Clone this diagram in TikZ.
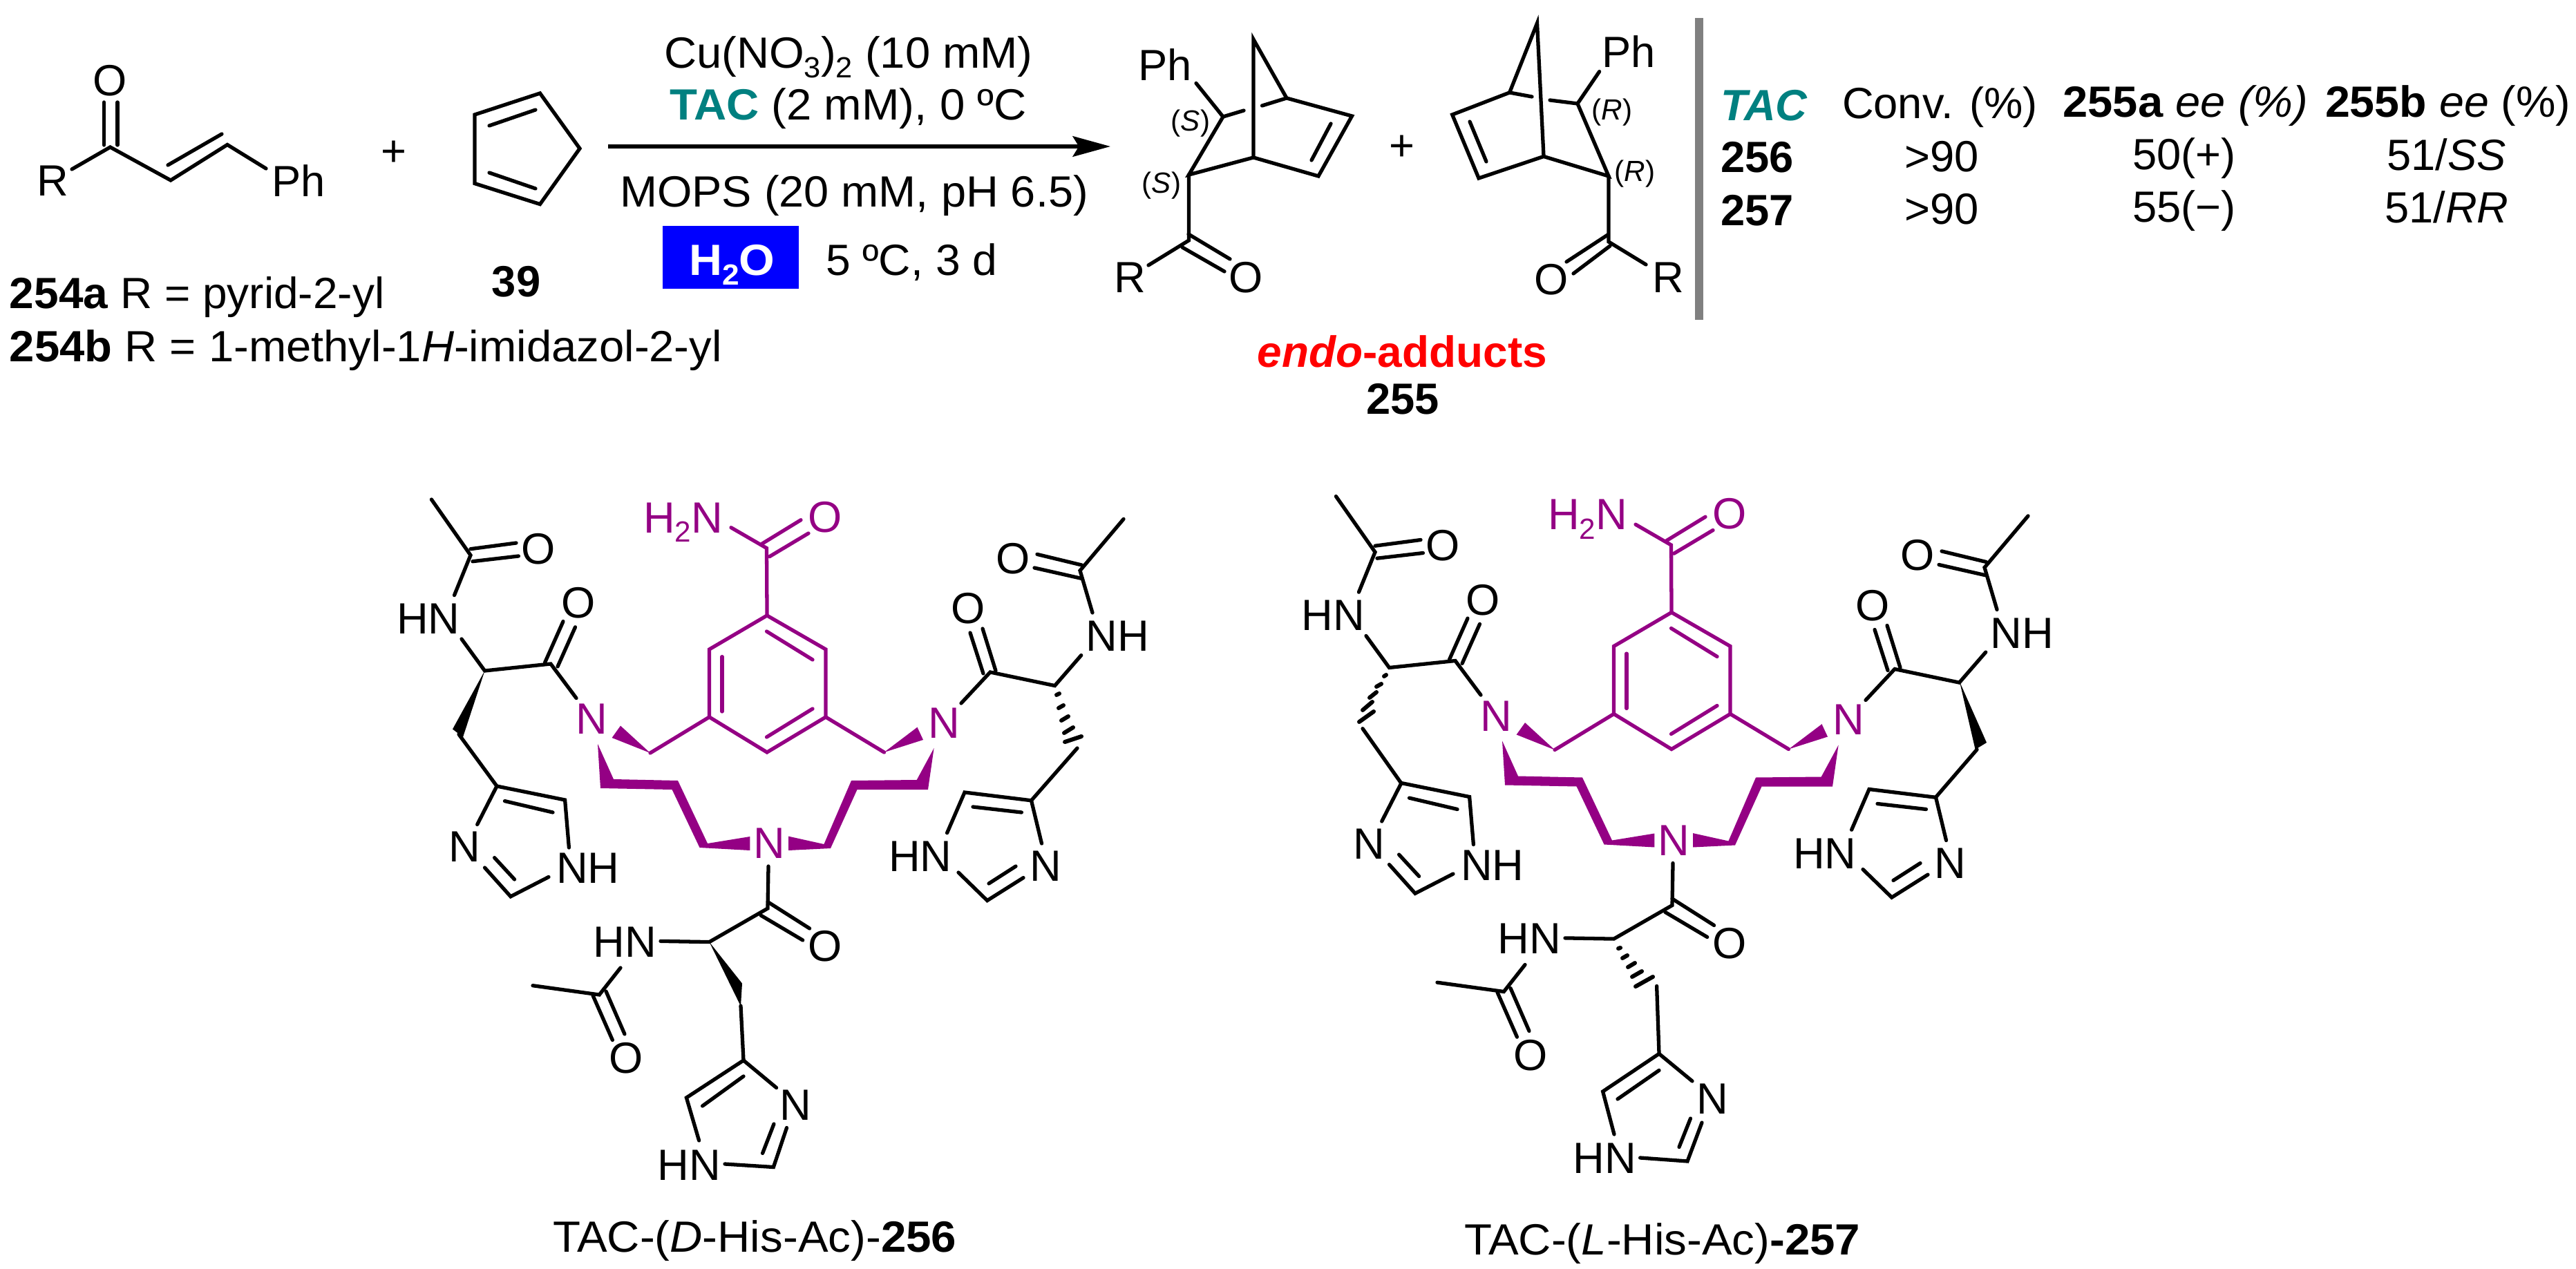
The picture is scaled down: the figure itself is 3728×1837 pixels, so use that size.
\documentclass[tikz,border=0pt]{standalone}
\usepackage{fontspec}
\setmainfont{Liberation Sans}
\usetikzlibrary{arrows.meta}
\definecolor{tacpurple}{RGB}{148,0,132}
\definecolor{tacteal}{RGB}{0,128,128}
\newcommand{\fsz}{\fontsize{18}{21}\selectfont}
\newcommand{\lowsub}[1]{\raisebox{-0.22em}{\fontsize{12}{12}\selectfont #1}}
\newcommand{\smalllab}[1]{{\fontsize{12}{13}\selectfont (\textit{#1})}}
\newcommand{\xs}[2]{\scalebox{#1}[1]{#2}}
\tikzset{
  x=0.01cm,y=-0.01cm,
  txt/.style={inner sep=0pt,outer sep=0pt,font=\fsz},
  lbl/.style={txt,anchor=base west},
  atom/.style={txt,anchor=center},
  bond/.style={line width=1.5pt,line cap=round,line join=miter,miter limit=10},
  hash/.style={line width=1.7pt,line cap=round},
}
\newcommand{\taccore}{%
  % purple amide and ring
  \begin{scope}[tacpurple]
    \node[lbl,text=tacpurple] (h2n) at (931,771) {H\lowsub{2}N};
    \node[atom,text=tacpurple] (oam) at (1194,748.6) {O};
    \draw[bond] (1058,763.7) -- (1109.5,793.5) -- (1110,891);
    \draw[bond] (1103,787) -- (1159,752.7);
    \draw[bond] (1113.6,805.7) -- (1170,772);
    \draw[bond] (1110,891) -- (1195,940) -- (1195,1038) -- (1110,1089) -- (1026.5,1038) -- (1026.5,940) -- cycle;
    \draw[bond] (1109.5,914) -- (1176,955);
    \draw[bond] (1045,950.6) -- (1045,1030);
    \draw[bond] (1109.5,1067) -- (1176,1026);
    \draw[bond] (1026.5,1038) -- (941,1090);
    \draw[bond] (1195,1038) -- (1279.5,1089);
    \fill (941,1090) -- (885.6,1068) -- (898,1050.6) -- cycle;
    \fill (1279.5,1089) -- (1336,1071) -- (1327.5,1052.7) -- cycle;
    \node[atom,text=tacpurple] (nl) at (856.5,1041) {N};
    \node[atom,text=tacpurple] (nr) at (1366.5,1046.5) {N};
    \node[atom,text=tacpurple] (nb) at (1113.6,1221) {N};
    \fill (865,1077) -- (888,1128) -- (981,1130) -- (1024,1221) -- (1085.4,1211) -- (1085.4,1231) -- (1012.5,1227) -- (972.6,1143) -- (869,1141) -- cycle;
    \fill (1351.6,1083) -- (1326.7,1129) -- (1232,1130) -- (1192.4,1222) -- (1141,1210.6) -- (1141,1231) -- (1202,1228) -- (1240.5,1143) -- (1343,1143) -- cycle;
  \end{scope}
  % left arm
  \draw[bond] (624.4,723) -- (681,803.7) -- (657.5,861.6);
  \draw[bond] (681,794.7) -- (747,786);
  \draw[bond] (684,812.7) -- (750.4,805);
  \node[atom] (o1) at (779.4,794.7) {O};
  \node[atom] (hn1) at (620,895.5) {HN};
  \draw[bond] (668,925) -- (701.5,971) -- (797,961) -- (834,1010.6);
  \draw[bond] (788.6,959) -- (815,899.6);
  \draw[bond] (807,965) -- (832.5,907.8);
  \node[atom] (o2) at (837.5,873) {O};
  \draw[bond] (730.5,1159.6) -- (800,1176);
  \draw[bond] (690.7,1193.5) -- (719,1138) -- (817.6,1158) -- (823.4,1227);
  \node[atom] (n1) at (672.5,1226) {N};
  \node[atom] (nh1) at (850.7,1257) {NH};
  \draw[bond] (701.5,1256) -- (739,1297.8) -- (794,1269.5);
  \draw[bond] (715.6,1241.6) -- (744.6,1273);
  % right arm
  \draw[bond] (1626,751.4) -- (1563,826) -- (1581,887);
  \draw[bond] (1565.5,818) -- (1501,802.4);
  \draw[bond] (1565.5,837.5) -- (1497,822);
  \node[atom] (o3) at (1466,808.6) {O};
  \node[atom] (nh2) at (1617,921) {NH};
  \draw[bond] (1564.7,948.6) -- (1526.5,992.6) -- (1433,973) -- (1391,1018);
  \draw[bond] (1423,975) -- (1404,916);
  \draw[bond] (1441,971) -- (1422,910);
  \node[atom] (o4) at (1401,881) {O};
  % upper part of the bottom arm
  \draw[bond] (1112,1254) -- (1111,1315) -- (1026.5,1363.6) -- (956,1362.4);
  \draw[bond] (1111,1305.5) -- (1171.6,1344);
  \draw[bond] (1101,1325) -- (1161.7,1361);
  \node[atom] (o5) at (1194,1370) {O};
  \node[atom] (hn3) at (904.6,1363.6) {HN};
  \draw[bond] (898,1401) -- (867.3,1440) -- (771,1426.7);
  \draw[bond] (858,1441) -- (886.4,1505.6);
  \draw[bond] (877,1435) -- (904,1497);
  \node[atom] (o6) at (906,1532) {O};
  % right imidazole
  \node[atom] (hn2) at (1331.7,1240) {HN};
  \node[atom] (n2) at (1513,1254) {N};
  \draw[bond] (1370.6,1205.7) -- (1396,1147) -- (1492.5,1158.8) -- (1507.5,1221);
  \draw[bond] (1408,1168) -- (1478.4,1176);
  \draw[bond] (1387,1263) -- (1428.7,1303.6) -- (1481,1270.6);
  \draw[bond] (1431,1279) -- (1470,1254);
}
\begin{document}
\begin{tikzpicture}
\useasboundingbox (0,0) rectangle (3728,1837);
\fill[white] (0,0) rectangle (3728,1837);

% enone
\node[atom] (o0) at (159.5,116.6) {O};
\node[atom] (r0) at (76,262) {R};
\node[atom] (ph0) at (432,262) {Ph};
\draw[bond] (104,245) -- (159.5,213) -- (247,261) -- (329,209.5) -- (385,244);
\draw[bond] (150.7,148) -- (150.7,210);
\draw[bond] (170,148) -- (170,210);
\draw[bond] (243,239) -- (321,194);
\node[atom] (plus1) at (570,222.5) {+};

% cyclopentadiene
\draw[bond] (687,166) -- (781.5,135) -- (839,215) -- (781.5,295.6) -- (687,265.6) -- cycle;
\draw[bond] (708,182) -- (775,159);
\draw[bond] (708,250) -- (775,273);
\node[atom,font=\fsz\bfseries] (c39) at (747,408) {39};
\node[lbl] (l254a) at (14,447) {\xs{1.01}{\textbf{254a} R = pyrid-2-yl}};
\node[lbl] (l254b) at (14,524) {\xs{1.03}{\textbf{254b} R = 1-methyl-1\textit{H}-imidazol-2-yl}};

% arrow and conditions
\coordinate (arrS) at (880,212);
\coordinate (arrE) at (1607,212);
\draw[line width=1.55pt,-{Stealth[length=15.5pt,width=8.4pt,inset=2.5pt]}] (arrS) -- (arrE);
\node[lbl] (cond1) at (961,99) {\xs{1.03}{Cu(NO\lowsub{3})\lowsub{2} (10 mM)}};
\node[lbl] (cond2) at (969,174) {\xs{1.033}{\textcolor{tacteal}{\textbf{TAC}} (2 mM), 0 ºC}};
\node[lbl] (cond3) at (897,300) {\xs{1.025}{MOPS (20 mM, pH 6.5)}};
\fill[blue] (959,327) rectangle (1156,418);
\node[lbl,text=white,font=\fsz\bfseries] (water) at (997,398.5) {\xs{1.05}{H\lowsub{\textbf{2}}O}};
\node[lbl] (cond4) at (1195,399) {\xs{1.015}{5 ºC, 3 d}};

% product 1
\node[atom] (ph1) at (1686,94) {Ph};
\draw[bond] (1731,120.5) -- (1770,169) -- (1720.5,253) -- (1814,228) -- (1814,57) -- (1862,142) -- (1956.5,168) -- (1908,255) -- (1814,228);
\draw[bond] (1770,169) -- (1800,160);
\draw[bond] (1862,142) -- (1826.5,153);
\draw[bond] (1926,179) -- (1898,232);
\draw[bond] (1720.5,253) -- (1720.5,348) -- (1662,384);
\draw[bond] (1720,339) -- (1780,375);
\draw[bond] (1711,358) -- (1772,393);
\node[atom] (r1) at (1635,402) {R};
\node[atom] (o11) at (1803.5,402) {O};
\node[atom] (s1) at (1723,179) {\smalllab{S}};
\node[atom] (s2) at (1681,269) {\smalllab{S}};

\node[atom] (plus2) at (2029,214) {+};

% product 2
\draw[bond] (2234,226.5) -- (2224.5,33.6) -- (2184.6,134) -- (2101.7,166) -- (2140,258) -- (2234,226.5) -- (2328,255) -- (2283,150) -- (2243,145);
\draw[bond] (2184.6,134) -- (2217,140);
\draw[bond] (2127,176) -- (2151,234);
\draw[bond] (2283,150) -- (2314.6,103.6);
\node[atom] (ph2) at (2357,75) {Ph};
\draw[bond] (2328,255) -- (2328,350) -- (2382,383);
\draw[bond] (2326.6,340) -- (2267,379);
\draw[bond] (2330,356) -- (2277,396);
\node[atom] (r2) at (2414,402) {R};
\node[atom] (o12) at (2245,405) {O};
\node[atom] (r3) at (2333,163) {\smalllab{R}};
\node[atom] (r4) at (2366,252) {\smalllab{R}};

\node[atom,anchor=base,text=red,font=\fsz\bfseries] (endo) at (2029.5,532) {\xs{1.01}{\textit{endo}-adducts}};
\node[atom,anchor=base,font=\fsz\bfseries] (n255) at (2030,600) {255};

% separator
\fill[black!50] (2452.5,26) rectangle (2465,463);

% table
\node[lbl,text=tacteal,font=\fsz\bfseries\itshape] (t00) at (2490,175) {TAC};
\node[lbl] (t01) at (2666,172) {Conv. (\%)};
\node[lbl] (t02) at (2985.5,170) {\xs{1.028}{\textbf{255a} \textit{ee (\%)}}};
\node[lbl] (t03) at (3365,170) {\xs{1.02}{\textbf{255b} \textit{ee} (\%)}};
\node[lbl,font=\fsz\bfseries] (t10) at (2490,250) {256};
\node[lbl] (t11) at (2756,249) {>90};
\node[lbl] (t12) at (3086,246) {50(+)};
\node[lbl] (t13) at (3454,247) {51/\textit{SS}};
\node[lbl,font=\fsz\bfseries] (t20) at (2490,327) {257};
\node[lbl] (t21) at (2756,325) {>90};
\node[lbl] (t22) at (3086,322) {55(−)};
\node[lbl] (t23) at (3451,322.5) {51/\textit{RR}};

% TAC-256
\begin{scope}[name prefix=a-]
  \taccore
  \fill (701.5,971) -- (655,1055.5) -- (670,1067) -- cycle;
  \draw[bond] (664,1063) -- (719,1138);
  \foreach \xa/\ya/\xb/\yb in {1529/1006/1533/1004,1532/1025/1539/1021,1536/1043/1546/1037,1540/1061/1553/1053,1541/1074/1565/1066}
    \draw[hash] (\xa,\ya) -- (\xb,\yb);
  \draw[bond] (1559,1083) -- (1492.5,1158.8);
  \fill (1026.5,1363.6) -- (1074,1423.6) -- (1072,1456.5) -- cycle;
  \draw[bond] (1072,1456) -- (1076,1535) -- (993.4,1589) -- (1011.6,1651);
  \draw[bond] (1076,1558) -- (1016.6,1601);
  \draw[bond] (1076,1535) -- (1123.6,1574.6);
  \node[atom] (n3) at (1151,1600) {N};
  \node[atom] (hn4) at (997.5,1687) {HN};
  \draw[bond] (1049,1685) -- (1119.4,1689.5) -- (1138.5,1632.6);
  \draw[bond] (1120,1627) -- (1103.6,1669.4);
  \node[lbl] (cap) at (800,1812.6) {\xs{1.034}{TAC-(\textit{D}-His-Ac)-\textbf{256}}};
\end{scope}

% TAC-257
\begin{scope}[name prefix=b-,shift={(1309,-4.5)}]
  \taccore
\end{scope}
\begin{scope}[name prefix=b-]
  \foreach \xa/\ya/\xb/\yb in {2003/979/2006/977,1992/994/1999/990,1982/1010/1992/1002,1972/1028/1986/1016,1967/1045/1988/1030}
    \draw[hash] (\xa,\ya) -- (\xb,\yb);
  \draw[bond] (1972,1054.7) -- (2028,1134);
  \fill (2836,987) -- (2875,1075) -- (2858.6,1085) -- cycle;
  \draw[bond] (2861,1085) -- (2801.5,1154);
  \foreach \xa/\ya/\xb/\yb in {2342/1373/2345/1372,2348/1387/2355/1383,2356/1400/2366/1394,2362/1414/2376/1406,2367/1428/2392/1414}
    \draw[hash] (\xa,\ya) -- (\xb,\yb);
  \draw[bond] (2397.6,1427.4) -- (2401,1525.4) -- (2319.6,1580) -- (2336,1642);
  \draw[bond] (2401,1549.4) -- (2341,1591);
  \draw[bond] (2401,1525.4) -- (2449,1565);
  \node[atom] (n3) at (2478,1591) {N};
  \node[atom] (hn4) at (2322,1677) {HN};
  \draw[bond] (2373.6,1676) -- (2442,1681) -- (2463,1625);
  \draw[bond] (2446.5,1619) -- (2430,1660.5);
  \node[lbl] (cap) at (2119,1816.5) {\xs{1.034}{TAC-(\textit{L}-His-Ac)\textbf{-257}}};
\end{scope}
\end{tikzpicture}
\end{document}
